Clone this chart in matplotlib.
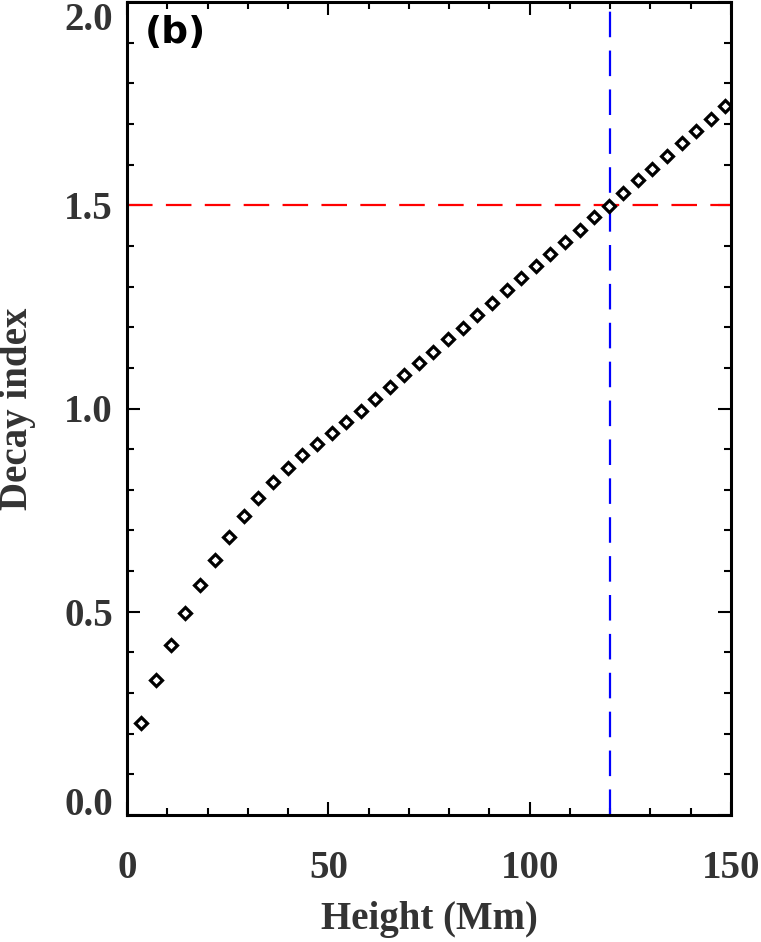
import matplotlib
matplotlib.use("Agg")
import matplotlib.pyplot as plt
from matplotlib.ticker import MultipleLocator

# Decay index vs height
height = [3.6, 7.3, 10.9, 14.5, 18.1, 21.8, 25.4, 29.0, 32.6, 36.3,
          39.9, 43.5, 47.1, 50.8, 54.4, 58.0, 61.6, 65.3, 68.9, 72.5,
          76.1, 79.8, 83.4, 87.0, 90.6, 94.3, 97.9, 101.5, 105.1, 108.8,
          112.4, 116.0, 119.6, 123.3, 126.9, 130.5, 134.1, 137.8, 141.4, 145.0,
          148.6]
decay_index = [0.227, 0.333, 0.419, 0.497, 0.566, 0.628, 0.684, 0.735, 0.780, 0.818,
               0.853, 0.885, 0.912, 0.939, 0.966, 0.994, 1.024, 1.054, 1.083, 1.111,
               1.139, 1.170, 1.197, 1.229, 1.259, 1.292, 1.320, 1.350, 1.380, 1.409,
               1.439, 1.470, 1.499, 1.531, 1.562, 1.590, 1.621, 1.652, 1.683, 1.712,
               1.744]
critical_index = 1.5
critical_height = 120

label_font = dict(family="Liberation Serif", weight="bold", size=28, color="#333333")

fig = plt.figure(figsize=(7.61, 9.42), dpi=100)
ax = fig.add_axes([127 / 761, 1 - 815 / 942, 604 / 761, 813 / 942])

ax.plot(height, decay_index, linestyle="none", marker="D", ms=6.3,
        mfc="white", mec="black", mew=2.3, zorder=3)

# reference lines
ax.axhline(critical_index, color="red", lw=1.6, dashes=(11.5, 6), zorder=2)
ax.axvline(critical_height, color="blue", lw=1.6, dashes=(11.5, 6), zorder=2)

ax.set_xlim(0, 150)
ax.set_ylim(0, 2.0)
ax.xaxis.set_major_locator(MultipleLocator(50))
ax.xaxis.set_minor_locator(MultipleLocator(10))
ax.yaxis.set_major_locator(MultipleLocator(0.5))
ax.yaxis.set_minor_locator(MultipleLocator(0.1))

for s in ax.spines.values():
    s.set_linewidth(2.2)
ax.tick_params(which="both", direction="in", top=True, right=True, width=1.5)
ax.tick_params(which="major", length=9.5)
ax.tick_params(which="minor", length=5)
ax.tick_params(axis="x", which="major", pad=25)
ax.tick_params(axis="y", which="major", pad=10)

ax.set_xticks([0, 50, 100, 150])
ax.set_xticklabels(["0", "50", "100", "150"], **label_font)
ax.set_yticks([0.0, 0.5, 1.0, 1.5, 2.0])
ylabels = ax.set_yticklabels(["0.0", "0.5", "1.0", "1.5", "2.0"], **label_font)
# end labels are kept inside the axis range
ylabels[0].set_va("baseline")
ylabels[-1].set_va("top")

ax.set_xlabel("Height (Mm)", va="center", **label_font)
ax.xaxis.set_label_coords(0.5, -0.129)
ax.set_ylabel("Decay index", va="center", **label_font)
ax.yaxis.set_label_coords(-0.182, 0.5)

ax.text(0.029, 0.984, "(b)", transform=ax.transAxes, ha="left", va="top",
        family="DejaVu Sans", weight="bold", size=27, color="black")

fig.savefig("out.png", dpi=100)
